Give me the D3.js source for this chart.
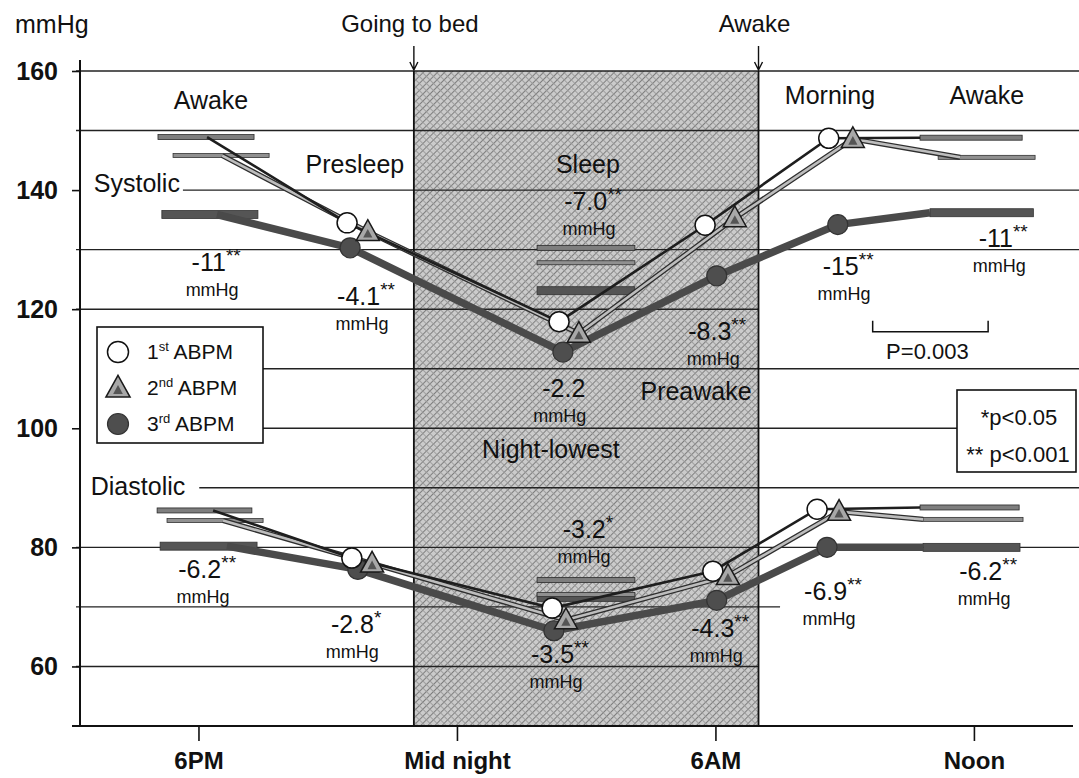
<!DOCTYPE html>
<html>
<head>
<meta charset="utf-8">
<script src="https://cdn.jsdelivr.net/npm/d3@7"></script>
<style>
  body { margin: 0; background: #fff; }
  svg { display: block; font-family: "Liberation Sans", Arial, sans-serif; }
  text { fill: #111; }
</style>
</head>
<body>
<svg id="chart" width="1079" height="778"></svg>
<script>
// ---- data ----------------------------------------------------------------
// time is in hours counted from the previous noon: 18 = 6PM, 24 = midnight, 36 = noon
const bedTime = 23;
const wakeTime = 31;

const tickTimes = [18, 24, 30, 36];
const tickLabels = ["6PM", "Mid night", "6AM", "Noon"];
const yTicks = [60, 80, 100, 120, 140, 160];
const gridValues = [60, 70, 80, 90, 100, 110, 120, 130, 140, 150, 160];

const seriesOrdinal = ["1", "2", "3"];
const seriesSup = ["st", "nd", "rd"];

// line vertices: evening awake, presleep, night-lowest, preawake, morning, daytime awake
const sysTimes = [
  [18.20, 21.45, 26.37, 29.76, 32.63, 34.75],
  [18.55, 21.93, 26.83, 30.45, 33.19, 35.68],
  [18.43, 21.52, 26.46, 30.03, 32.84, 34.98]
];
const systolic = [
  [148.9, 134.5, 117.9, 134.1, 148.7, 148.8],
  [145.8, 133.0, 115.9, 135.3, 148.6, 145.5],
  [135.9, 130.3, 112.8, 125.6, 134.2, 136.2]
];
const diaTimes = [
  [18.34, 21.56, 26.21, 29.94, 32.36, 34.75],
  [18.57, 22.03, 26.53, 30.29, 32.87, 34.82],
  [18.66, 21.70, 26.25, 30.03, 32.59, 34.82]
];
const diastolic = [
  [86.2, 78.2, 69.8, 76.0, 86.4, 86.7],
  [84.5, 77.3, 67.8, 75.2, 86.0, 84.7],
  [80.2, 76.3, 66.0, 71.1, 80.0, 80.0]
];

// awake / sleep means drawn as horizontal bars
const sysEveningSpan = [[17.06, 19.29], [17.41, 19.64], [17.15, 19.38]];
const sysDaySpan = [[34.75, 37.12], [35.17, 37.42], [34.98, 37.38]];
const diaEveningSpan = [[17.04, 19.24], [17.27, 19.50], [17.11, 19.36]];
const diaDaySpan = [[34.75, 37.05], [34.82, 37.14], [34.82, 37.07]];
const sleepSpan = [25.86, 28.13];
const sysSleep = [130.3, 127.8, 123.1];
const diaSleep = [74.5, 72.1, 71.6];

// phase names
const phaseLabels = ["Awake", "Presleep", "Sleep", "Night-lowest", "Preawake", "Morning", "Awake"];
const phaseT = [18.29, 21.63, 27.04, 26.18, 29.55, 32.66, 36.30];
const phaseV = [153.6, 142.9, 142.9, 95.0, 104.7, 154.5, 154.5];

// differences 3rd vs 1st ABPM
const diffText = ["-11", "-4.1", "-7.0", "-8.3", "-2.2", "-15", "-11",
                  "-6.2", "-2.8", "-3.2", "-3.5", "-4.3", "-6.9", "-6.2"];
const diffStars = ["**", "**", "**", "**", "", "**", "**",
                   "**", "*", "*", "**", "**", "**", "**"];
const diffT = [18.41, 21.89, 27.16, 30.04, 26.48, 33.08, 36.68,
               18.20, 21.66, 27.04, 26.39, 30.11, 32.73, 36.33];
const diffV = [126.4, 120.7, 136.7, 114.8, 105.3, 125.7, 130.4,
               74.9, 65.6, 81.6, 60.6, 64.9, 71.2, 74.5];

const bracketT = [33.65, 36.33];
const bracketV = 116.2;
const bracketText = "P=0.003";

// ---- scales ----------------------------------------------------------------
const W = 1079, H = 778;
const svg = d3.select("#chart");
const x = d3.scaleLinear().domain([15.25, 38.3]).range([80, 1073]);
const y = d3.scaleLinear().domain([50, 160]).range([726, 71]);
const left = x.range()[0], right = x.range()[1];

// shading pattern for the sleep period
const defs = svg.append("defs");
const pat = defs.append("pattern")
  .attr("id", "shade")
  .attr("width", 5).attr("height", 5)
  .attr("patternUnits", "userSpaceOnUse")
  .attr("patternTransform", "rotate(45)");
pat.append("rect").attr("width", 5).attr("height", 5).attr("fill", "#cbcbcb");
pat.append("line").attr("x1", 0).attr("y1", 0).attr("x2", 0).attr("y2", 5)
  .attr("stroke", "#6a6a6a").attr("stroke-width", 1.6);
pat.append("line").attr("x1", 0).attr("y1", 2.5).attr("x2", 5).attr("y2", 2.5)
  .attr("stroke", "#9a9a9a").attr("stroke-width", 0.9);

svg.append("rect")
  .attr("x", x(bedTime)).attr("y", y(160))
  .attr("width", x(wakeTime) - x(bedTime))
  .attr("height", y(50) - y(160))
  .attr("fill", "url(#shade)");

// ---- labels that cut grid lines ---------------------------------------------
const sysLabel = svg.append("text")
  .attr("x", x(15.57)).attr("y", y(139.7))
  .attr("font-size", 25).text("Systolic");
const diaLabel = svg.append("text")
  .attr("x", x(15.50)).attr("y", y(88.8))
  .attr("font-size", 25).text("Diastolic");
const sysEnd = x(15.57) + sysLabel.node().getComputedTextLength() + 3;
const diaEnd = x(15.50) + diaLabel.node().getComputedTextLength() + 14;

// legend and p-value boxes (layout)
const legend = { x: 97, y: 327, w: 166, h: 116 };
const pbox = { x: 957, y: 390, w: 119, h: 82 };

// ---- grid ----------------------------------------------------------------
const grid = svg.append("g");
gridValues.forEach(v => {
  let x1 = left - 4, x2 = W;
  if (v === 140) x1 = sysEnd;
  if (v === 90) x1 = diaEnd;
  if (v === 110 || v === 100) x1 = legend.x + legend.w;
  if (v === 100) x2 = pbox.x;
  if (v === 120 || v === 60) x2 = x(wakeTime);
  if (v === 70) x2 = x(wakeTime + 0.5);
  grid.append("line")
    .attr("x1", x1).attr("x2", x2)
    .attr("y1", y(v)).attr("y2", y(v))
    .attr("stroke", "#222").attr("stroke-width", 1.4);
});

// sleep period borders
[bedTime, wakeTime].forEach(t => {
  svg.append("line")
    .attr("x1", x(t)).attr("x2", x(t))
    .attr("y1", y(160)).attr("y2", y(50))
    .attr("stroke", "#111").attr("stroke-width", 1.8);
});

// ---- axes ----------------------------------------------------------------
const yAxis = svg.append("g")
  .attr("transform", `translate(${left},0)`)
  .call(d3.axisLeft(y).tickValues(yTicks).tickSize(8).tickPadding(14))
  .call(g => g.select(".domain").remove());
yAxis.selectAll("line").attr("stroke", "#111").attr("stroke-width", 1.6);
yAxis.selectAll("text")
  .attr("font-size", 25).attr("font-weight", "bold")
  .attr("font-family", "Liberation Sans, Arial, sans-serif").attr("fill", "#111");

const xAxis = svg.append("g")
  .attr("transform", `translate(0,${y(50)})`)
  .call(d3.axisBottom(x).tickValues(tickTimes).tickSize(15).tickPadding(11)
    .tickFormat((d, i) => tickLabels[i]))
  .call(g => g.select(".domain").remove());
xAxis.selectAll("line").attr("stroke", "#111").attr("stroke-width", 1.6);
xAxis.selectAll("text")
  .attr("font-size", 24).attr("font-weight", "bold")
  .attr("font-family", "Liberation Sans, Arial, sans-serif").attr("fill", "#111");

svg.append("line")
  .attr("x1", left).attr("x2", left)
  .attr("y1", y(160) - 11).attr("y2", y(50))
  .attr("stroke", "#111").attr("stroke-width", 2);
svg.append("line")
  .attr("x1", left - 8).attr("x2", right)
  .attr("y1", y(50)).attr("y2", y(50))
  .attr("stroke", "#111").attr("stroke-width", 2);

// ---- header ----------------------------------------------------------------
svg.append("text").attr("x", 15).attr("y", 33).attr("font-size", 25).text("mmHg");
[[bedTime, "Going to bed"], [wakeTime, "Awake"]].forEach(([t, label]) => {
  const ax = x(t);
  svg.append("text")
    .attr("x", ax - 4).attr("y", 32)
    .attr("text-anchor", "middle").attr("font-size", 24).text(label);
  svg.append("path")
    .attr("d", `M${ax},46 V${y(160) - 1} M${ax - 4},${y(160) - 9} L${ax},${y(160) - 1} L${ax + 4},${y(160) - 9}`)
    .attr("fill", "none").attr("stroke", "#111").attr("stroke-width", 1.4);
});

// ---- bars, lines, markers ---------------------------------------------------
const barStyle = [
  { h: 5, fill: "#7e7e7e", stroke: "#2a2a2a" },
  { h: 4, fill: "#909090", stroke: "#333" },
  { h: 8, fill: "#555", stroke: "#333" }
];

function drawBar(g, t0, t1, v, s) {
  g.append("rect")
    .attr("x", x(t0)).attr("width", x(t1) - x(t0))
    .attr("y", y(v) - s.h / 2).attr("height", s.h)
    .attr("fill", s.fill).attr("stroke", s.stroke).attr("stroke-width", 0.8);
}

function drawLine(g, times, values, i) {
  const line = d3.line().x((d, k) => x(times[k])).y(d => y(d));
  if (i === 0) {
    g.append("path").attr("d", line(values)).attr("fill", "none")
      .attr("stroke", "#1e1e1e").attr("stroke-width", 2.6);
  } else if (i === 1) {
    g.append("path").attr("d", line(values)).attr("fill", "none")
      .attr("stroke", "#2e2e2e").attr("stroke-width", 5.2);
    g.append("path").attr("d", line(values)).attr("fill", "none")
      .attr("stroke", "#bdbdbd").attr("stroke-width", 2.6);
  } else {
    g.append("path").attr("d", line(values)).attr("fill", "none")
      .attr("stroke", "#4a4a4a").attr("stroke-width", 7.5)
      .attr("stroke-linejoin", "round");
  }
}

function drawMarker(g, cx, cy, i, r) {
  if (i === 0) {
    g.append("circle").attr("cx", cx).attr("cy", cy).attr("r", r)
      .attr("fill", "#fff").attr("stroke", "#111").attr("stroke-width", 1.5);
  } else if (i === 1) {
    const a = r * 1.15;
    g.append("path")
      .attr("d", `M${cx},${cy - a * 1.05} L${cx + a},${cy + a * 0.75} L${cx - a},${cy + a * 0.75} Z`)
      .attr("fill", "#a8a8a8").attr("stroke", "#1a1a1a").attr("stroke-width", 1.5);
    g.append("path")
      .attr("d", `M${cx},${cy - a * 0.25} L${cx + a * 0.4},${cy + a * 0.5} L${cx - a * 0.4},${cy + a * 0.5} Z`)
      .attr("fill", "#555");
  } else {
    g.append("circle").attr("cx", cx).attr("cy", cy).attr("r", r)
      .attr("fill", "#4e4e4e").attr("stroke", "#333").attr("stroke-width", 1.2);
  }
}

const plot = svg.append("g");
const blocks = [
  { times: sysTimes, values: systolic, eve: sysEveningSpan, day: sysDaySpan, sleep: sysSleep },
  { times: diaTimes, values: diastolic, eve: diaEveningSpan, day: diaDaySpan, sleep: diaSleep }
];
const order = [2, 1, 0];
blocks.forEach(b => {
  order.forEach(i => {
    drawBar(plot, b.eve[i][0], b.eve[i][1], b.values[i][0], barStyle[i]);
    drawBar(plot, b.day[i][0], b.day[i][1], b.values[i][5], barStyle[i]);
    drawBar(plot, sleepSpan[0], sleepSpan[1], b.sleep[i], barStyle[i]);
  });
});
blocks.forEach(b => {
  order.forEach(i => drawLine(plot, b.times[i], b.values[i], i));
});
blocks.forEach(b => {
  [2, 0, 1].forEach(i => {
    for (let k = 1; k <= 4; k++) {
      drawMarker(plot, x(b.times[i][k]), y(b.values[i][k]), i, 10);
    }
  });
});

// ---- text annotations --------------------------------------------------------
phaseLabels.forEach((label, k) => {
  svg.append("text")
    .attr("x", x(phaseT[k])).attr("y", y(phaseV[k]))
    .attr("text-anchor", "middle").attr("font-size", 25).text(label);
});

diffText.forEach((num, k) => {
  const cx = x(diffT[k]), cy = y(diffV[k]);
  const t = svg.append("text")
    .attr("x", cx).attr("y", cy)
    .attr("text-anchor", "middle").attr("font-size", 25);
  t.append("tspan").text(num);
  if (diffStars[k]) t.append("tspan").attr("font-size", 19).attr("dy", -9).text(diffStars[k]);
  svg.append("text")
    .attr("x", cx - 4).attr("y", cy + 25)
    .attr("text-anchor", "middle").attr("font-size", 18).text("mmHg");
});

// bracket with P value
svg.append("path")
  .attr("d", `M${x(bracketT[0])},${y(bracketV) - 11} V${y(bracketV)} H${x(bracketT[1])} V${y(bracketV) - 11}`)
  .attr("fill", "none").attr("stroke", "#111").attr("stroke-width", 1.5);
svg.append("text")
  .attr("x", d3.mean(bracketT.map(x)) - 3).attr("y", y(bracketV) + 27)
  .attr("text-anchor", "middle").attr("font-size", 22).text(bracketText);

// ---- legend ----------------------------------------------------------------
svg.append("rect")
  .attr("x", left + 2).attr("y", legend.y - 1)
  .attr("width", legend.x - left).attr("height", legend.h + 2).attr("fill", "#fff");
svg.append("rect")
  .attr("x", legend.x).attr("y", legend.y).attr("width", legend.w).attr("height", legend.h)
  .attr("fill", "#fff").attr("stroke", "#111").attr("stroke-width", 1.6);
seriesOrdinal.forEach((n, i) => {
  const my = legend.y + 25 + i * 36;
  drawMarker(svg, legend.x + 21, my, i, 10.5);
  const t = svg.append("text").attr("x", legend.x + 50).attr("y", my + 7).attr("font-size", 21);
  t.append("tspan").text(n);
  t.append("tspan").attr("font-size", 13).attr("dy", -8).text(seriesSup[i]);
  t.append("tspan").attr("dy", 8).text(" ABPM");
});

// significance box
svg.append("rect")
  .attr("x", pbox.x).attr("y", pbox.y).attr("width", pbox.w).attr("height", pbox.h)
  .attr("fill", "#fff").attr("stroke", "#111").attr("stroke-width", 1.6);
svg.append("text").attr("x", pbox.x + 62).attr("y", pbox.y + 35)
  .attr("text-anchor", "middle").attr("font-size", 22).text("*p<0.05");
svg.append("text").attr("x", pbox.x + 61).attr("y", pbox.y + 72)
  .attr("text-anchor", "middle").attr("font-size", 22).text("** p<0.001");
</script>
</body>
</html>
